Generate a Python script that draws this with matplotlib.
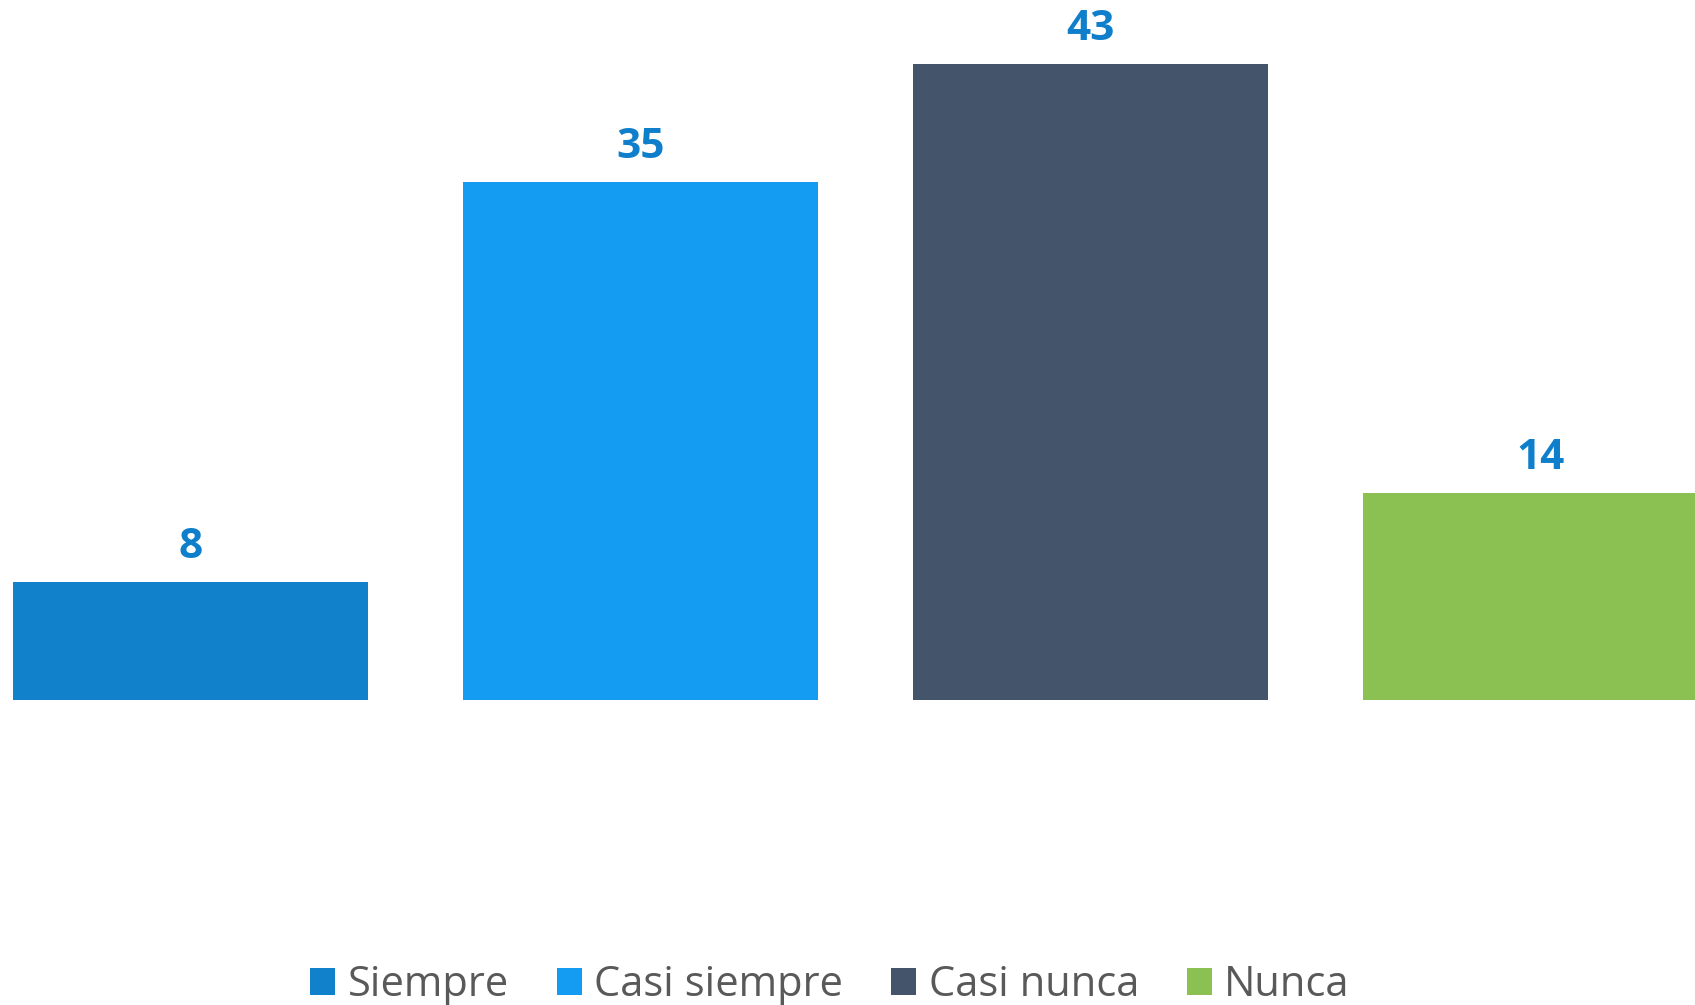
import matplotlib
matplotlib.use('Agg')
import matplotlib.pyplot as plt
import numpy as np

plt.rcParams['font.family'] = ['Open Sans', 'DejaVu Sans']

# datos
categorias = ['Siempre', 'Casi siempre', 'Casi nunca', 'Nunca']
valores = [8, 35, 43, 14]
colores = ['#1081CA', '#139CF2', '#44546A', '#8BC153']

fig = plt.figure(figsize=(16.95, 10.05), dpi=100)
ax = fig.add_axes([0, 1 - 700 / 1005, 1, 700 / 1005])

x = np.arange(len(categorias))
bars = []
for i, (cat, val, col) in enumerate(zip(categorias, valores, colores)):
    b = ax.bar(x[i], val, 0.789, color=col, label=cat)
    bars.append(b)
    ax.annotate(f'{val}', (x[i], val), xytext=(0, 17), textcoords='offset points',
                ha='center', va='baseline', fontsize=30.5, fontweight='bold',
                color='#0F7FCB')

ax.set_xlim(-190.5 / 450, (1695 - 190.5) / 450)
ax.set_ylim(0, 700 / 14.8)
ax.axis('off')

fig.legend(handles=bars, labels=categorias, ncol=4, loc='center',
           bbox_to_anchor=(830 / 1695, 1 - 985 / 1005), frameon=False,
           fontsize=30, handlelength=0.6, handleheight=0.6,
           handletextpad=0.3, columnspacing=1.15, labelcolor='#595959')

plt.savefig('out.png', dpi=100)
